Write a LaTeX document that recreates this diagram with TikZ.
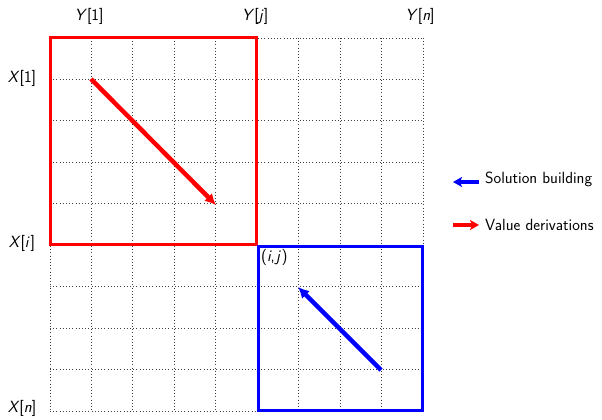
\documentclass[tikz,border=0pt]{standalone}
\usetikzlibrary{arrows.meta}
\renewcommand{\familydefault}{\sfdefault}
\begin{document}
\begin{tikzpicture}[x=1pt,y=-1pt,
  lbl/.style={font=\sffamily\fontsize{16.2}{19}\selectfont, inner sep=0pt},
  gridln/.style={black!75, line width=0.8pt, dash pattern=on 0.8pt off 2.4pt},
  redbox/.style={draw=red, line width=3pt},
  bluebox/.style={draw=blue, line width=3pt},
  redarr/.style={red, line width=4.5pt, -{Latex[length=11pt,width=11pt]}},
  bluearr/.style={blue, line width=4.5pt, -{Latex[length=11pt,width=11pt]}},
  legarr/.style={line width=3.4pt, -{Stealth[length=9pt,width=10pt,inset=2pt]}}]
\useasboundingbox (0,0) rectangle (602,420);
% grid
\foreach \k in {0,...,9} {
  \draw[gridln] ({50+\k*41.44},38) -- ({50+\k*41.44},411);
  \draw[gridln] (50,{38+\k*41.44}) -- (423,{38+\k*41.44});
}
% boxes
\draw[redbox] (50,38) rectangle (256,244);
\draw[bluebox] (258,246) rectangle (422,410);
% labels
\node[lbl] (y1) at (89,16) {\textit{Y}[1]};
\node[lbl] (yj) at (255,16) {\textit{Y}[\textit{j}]};
\node[lbl] (yn) at (420,16) {\textit{Y}[\textit{n}]};
\node[lbl] (x1) at (22,78) {\textit{X}[1]};
\node[lbl] (xi) at (22,243) {\textit{X}[\textit{i}\kern1pt]};
\node[lbl] (xn) at (22,408) {\textit{X}[\textit{n}]};
\node[lbl, anchor=west] (ij) at (261,257) {(\textit{i},\kern1pt\textit{j}\kern0.5pt)};
% arrows
\coordinate (rs) at (91,79);
\coordinate (re) at (216,205);
\coordinate (bs) at (381,370);
\coordinate (be) at (298,287);
\draw[redarr] (rs) -- (re);
\draw[bluearr] (bs) -- (be);
% legend
\coordinate (l1s) at (479,182);
\coordinate (l1e) at (453,182);
\coordinate (l2s) at (453,225);
\coordinate (l2e) at (479,225);
\draw[legarr, blue] (l1s) -- (l1e);
\draw[legarr, red] (l2s) -- (l2e);
\node[lbl, anchor=west] (t1) at (485,179) {Solution building};
\node[lbl, anchor=west] (t2) at (485,225) {Value derivations};
\end{tikzpicture}
\end{document}
